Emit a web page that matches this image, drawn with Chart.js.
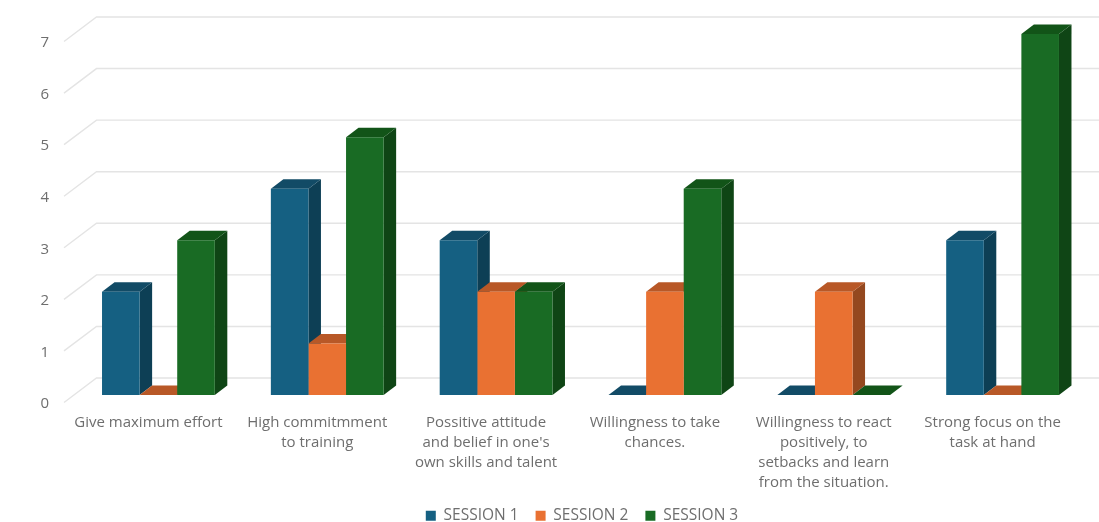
<!DOCTYPE html>
<html>
<head>
<meta charset="utf-8">
<style>html,body{margin:0;padding:0;background:#fff;overflow:hidden}canvas{display:block}</style>
<script src="https://cdn.jsdelivr.net/npm/chart.js@4"></script>
</head>
<body>
<canvas id="c" width="1099" height="522"></canvas>
<script>
const categories = [
  "Give maximum effort",
  ["High commitmment", "to training"],
  ["Possitive attitude", "and belief in one's", "own skills and talent"],
  ["Willingness to take", "chances."],
  ["Willingness to react", "positively, to", "setbacks and learn", "from the situation."],
  ["Strong focus on the", "task at hand"]
];
const session1 = [2, 4, 3, 0, 0, 3];
const session2 = [0, 1, 2, 2, 2, 0];
const session3 = [3, 5, 2, 4, 0, 7];
const seriesNames = ["SESSION 1", "SESSION 2", "SESSION 3"];
const frontColors = ["#156082", "#E97132", "#196B24"];
const topColors = ["#124B66", "#B85827", "#125418"];
const sideColors = ["#0D3F55", "#94481F", "#0F4515"];

const FONT = "'Open Sans', sans-serif";
const TEXT = "#6e6e6e";
const GRID = "#e4e4e4";
// Depth of the bars and of the back wall, in pixels
const BAR_DX = 12.5, BAR_DY = 9.5;
const WALL_BACK_X = 96.5, WALL_FRONT_X = 64, WALL_RISE = 17, WALL_DROP = 7.5;

function poly(ctx, color, pts) {
  ctx.fillStyle = color;
  ctx.beginPath();
  pts.forEach((p, i) => i ? ctx.lineTo(p[0], p[1]) : ctx.moveTo(p[0], p[1]));
  ctx.closePath();
  ctx.fill();
}

// Draws the back wall with its gridlines, then the top and side faces of each bar.
const depthPlugin = {
  id: "depth",
  afterLayout(chart) {
    // Category labels may run down beside the legend; the legend sits right of centre.
    chart.scales.x.bottom += 12;
    chart.legend.left += 77;
  },
  beforeDatasetsDraw(chart) {
    const ctx = chart.ctx, y = chart.scales.y;
    ctx.save();
    ctx.strokeStyle = GRID;
    ctx.lineWidth = 1.4;
    y.ticks.forEach(t => {
      const p = y.getPixelForValue(t.value);
      ctx.beginPath();
      ctx.moveTo(WALL_FRONT_X, p + WALL_DROP);
      ctx.lineTo(WALL_BACK_X, p - WALL_RISE);
      ctx.lineTo(chart.width, p - WALL_RISE);
      ctx.stroke();
    });
    chart.data.datasets.forEach((ds, d) => {
      chart.getDatasetMeta(d).data.forEach(bar => {
        const { x, y: top, base, width } = bar.getProps(["x", "y", "base", "width"], true);
        const l = x - width / 2, r = x + width / 2;
        poly(ctx, sideColors[d], [[r, top], [r + BAR_DX, top - BAR_DY], [r + BAR_DX, base - BAR_DY], [r, base]]);
        poly(ctx, topColors[d], [[l, top], [l + BAR_DX, top - BAR_DY], [r + BAR_DX, top - BAR_DY], [r, top]]);
      });
    });
    ctx.restore();
  }
};

new Chart(document.getElementById("c"), {
  type: "bar",
  data: {
    labels: categories,
    datasets: [session1, session2, session3].map((values, i) => ({
      label: seriesNames[i],
      data: values,
      backgroundColor: frontColors[i],
      borderWidth: 0,
      barPercentage: 1,
      categoryPercentage: 0.668
    }))
  },
  options: {
    responsive: false,
    animation: false,
    layout: { padding: { left: 0, right: 12, top: 34, bottom: -11.5 } },
    plugins: {
      tooltip: { enabled: false },
      legend: {
        position: "bottom",
        labels: {
          boxWidth: 10, boxHeight: 10, padding: 17,
          color: TEXT,
          font: { family: FONT, size: 15.5 }
        }
      }
    },
    scales: {
      x: {
        grid: { display: false },
        border: { display: false },
        afterFit(s) { s.height = 96; },
        ticks: {
          autoSkip: false, maxRotation: 0, minRotation: 0, padding: 10, labelOffset: -10,
          color: TEXT,
          font: { family: FONT, size: 15, lineHeight: 1.33 }
        }
      },
      y: {
        min: 0, max: 7,
        grid: { display: false },
        border: { display: false },
        afterFit(s) { s.width = 74; },
        ticks: {
          stepSize: 1, padding: 17, labelOffset: 9,
          color: TEXT,
          font: { family: FONT, size: 15 }
        }
      }
    }
  },
  plugins: [depthPlugin]
});
</script>
</body>
</html>
